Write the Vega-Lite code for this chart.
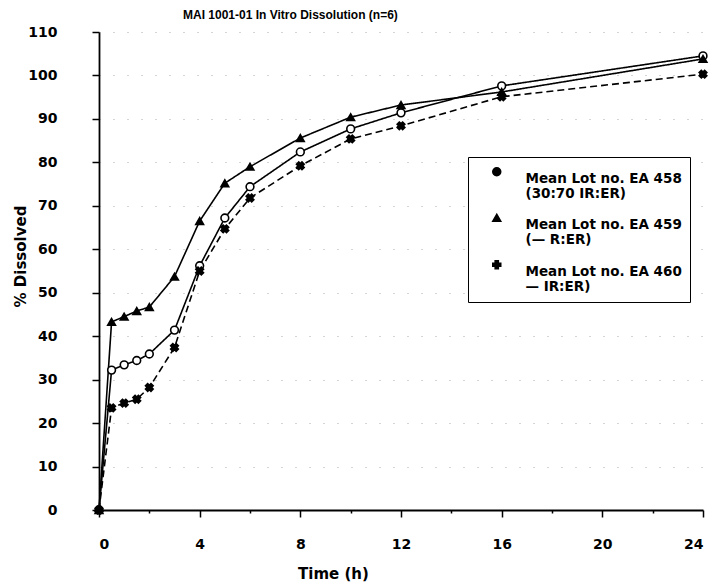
{
  "$schema": "https://vega.github.io/schema/vega-lite/v6.json",
  "width": 604,
  "height": 478,
  "autosize": {"type": "none"},
  "padding": {"left": 99, "top": 32, "right": 12, "bottom": 77},
  "background": "white",
  "title": {"text": "MAI 1001-01 In Vitro Dissolution (n=6)", "anchor": "start", "frame": "group", "dx": 84, "offset": 3, "font": "Liberation Sans", "fontSize": 12, "fontWeight": "bold", "color": "black"},
  "config": {"view": {"stroke": null}, "font": "DejaVu Sans"},
  "data": {"values": [
    {"t": 0, "lot": "EA 458", "p": 0}, {"t": 0.5, "lot": "EA 458", "p": 32.2}, {"t": 1, "lot": "EA 458", "p": 33.4}, {"t": 1.5, "lot": "EA 458", "p": 34.4}, {"t": 2, "lot": "EA 458", "p": 35.9}, {"t": 3, "lot": "EA 458", "p": 41.4}, {"t": 4, "lot": "EA 458", "p": 56.2}, {"t": 5, "lot": "EA 458", "p": 67.2}, {"t": 6, "lot": "EA 458", "p": 74.4}, {"t": 8, "lot": "EA 458", "p": 82.4}, {"t": 10, "lot": "EA 458", "p": 87.7}, {"t": 12, "lot": "EA 458", "p": 91.4}, {"t": 16, "lot": "EA 458", "p": 97.6}, {"t": 24, "lot": "EA 458", "p": 104.5},
    {"t": 0, "lot": "EA 459", "p": 0}, {"t": 0.5, "lot": "EA 459", "p": 43.3}, {"t": 1, "lot": "EA 459", "p": 44.5}, {"t": 1.5, "lot": "EA 459", "p": 45.8}, {"t": 2, "lot": "EA 459", "p": 46.7}, {"t": 3, "lot": "EA 459", "p": 53.7}, {"t": 4, "lot": "EA 459", "p": 66.5}, {"t": 5, "lot": "EA 459", "p": 75.2}, {"t": 6, "lot": "EA 459", "p": 79}, {"t": 8, "lot": "EA 459", "p": 85.6}, {"t": 10, "lot": "EA 459", "p": 90.4}, {"t": 12, "lot": "EA 459", "p": 93.2}, {"t": 16, "lot": "EA 459", "p": 96.2}, {"t": 24, "lot": "EA 459", "p": 103.8},
    {"t": 0, "lot": "EA 460", "p": 0}, {"t": 0.5, "lot": "EA 460", "p": 23.5}, {"t": 1, "lot": "EA 460", "p": 24.6}, {"t": 1.5, "lot": "EA 460", "p": 25.5}, {"t": 2, "lot": "EA 460", "p": 28.2}, {"t": 3, "lot": "EA 460", "p": 37.4}, {"t": 4, "lot": "EA 460", "p": 55}, {"t": 5, "lot": "EA 460", "p": 64.7}, {"t": 6, "lot": "EA 460", "p": 71.8}, {"t": 8, "lot": "EA 460", "p": 79.2}, {"t": 10, "lot": "EA 460", "p": 85.4}, {"t": 12, "lot": "EA 460", "p": 88.4}, {"t": 16, "lot": "EA 460", "p": 95.1}, {"t": 24, "lot": "EA 460", "p": 100.3}
  ]},
  "layer": [
    {
      "mark": {"type": "line", "stroke": "black", "strokeWidth": 1.6},
      "encoding": {
        "x": {"field": "t", "type": "quantitative", "scale": {"domain": [0, 24], "nice": false, "zero": false},
          "axis": {"orient": "bottom", "title": "Time (h)", "values": [0,1,2,3,4,5,6,7,8,9,10,11,12,13,14,15,16,17,18,19,20,21,22,23,24],
            "labelExpr": "datum.value % 4 == 0 ? datum.label : ''",
            "tickSize": {"condition": {"test": "datum.value % 4 == 0", "value": 7}, "value": 3},
            "tickColor": "black", "tickWidth": 1.5, "domainColor": "black", "domainWidth": 1.8, "grid": false,
            "labelFont": "DejaVu Sans", "labelFontSize": 14, "labelFontWeight": "bold", "labelColor": "black", "labelPadding": 20,
            "titleFont": "DejaVu Sans", "titleFontSize": 15, "titleFontWeight": "bold", "titleColor": "black", "titlePadding": 15, "titleX": 234}},
        "y": {"field": "p", "type": "quantitative", "scale": {"domain": [0, 110], "nice": false},
          "axis": {"orient": "left", "title": "% Dissolved", "values": [0,5,10,15,20,25,30,35,40,45,50,55,60,65,70,75,80,85,90,95,100,105,110],
            "labelExpr": "datum.value % 10 == 0 ? datum.label : ''",
            "tickSize": {"condition": {"test": "datum.value % 10 == 0", "value": 7}, "value": 3},
            "tickColor": "black", "tickWidth": 1.5, "domainColor": "black", "domainWidth": 1.8,
            "grid": true, "gridColor": {"condition": {"test": "datum.value % 10 == 0", "value": "#aaa"}, "value": "transparent"}, "gridDash": [1, 13], "gridWidth": 1,
            "labelFont": "DejaVu Sans", "labelFontSize": 14, "labelFontWeight": "bold", "labelColor": "black", "labelPadding": 35,
            "titleFont": "DejaVu Sans", "titleFontSize": 15, "titleFontWeight": "bold", "titleColor": "black", "titleX": -71, "titleY": 224}},
        "strokeDash": {"field": "lot", "type": "nominal", "scale": {"range": [[1, 0], [1, 0], [7, 4]]}, "legend": null}
      }
    },
    {
      "mark": {"type": "point", "filled": true, "stroke": "black", "strokeWidth": 1.6, "size": 60, "opacity": 1},
      "encoding": {
        "x": {"field": "t", "type": "quantitative"},
        "y": {"field": "p", "type": "quantitative"},
        "shape": {"field": "lot", "type": "nominal",
          "scale": {"range": ["circle", "triangle-up", "cross"]},
          "legend": {"orient": "none", "legendX": 369, "legendY": 125, "title": "", "strokeColor": "black", "padding": 8, "fillColor": "white",
            "labelExpr": "datum.value == 'EA 458' ? ['Mean Lot no. EA 458', '(30:70 IR:ER)'] : datum.value == 'EA 459' ? ['Mean Lot no. EA 459', '(\u2014      R:ER)'] : ['Mean Lot no. EA 460', '\u2014      IR:ER)']",
            "labelFont": "DejaVu Sans", "labelFontSize": 13.5, "labelFontWeight": "bold", "labelColor": "black", "labelLimit": 300,
            "labelBaseline": "top", "symbolSize": 64, "symbolOffset": 14, "labelOffset": 22, "rowPadding": 10,
            "encode": {"symbols": {"update": {
              "fill": {"signal": "datum.value == 'EA 458' ? 'white' : 'black'"},
              "stroke": {"value": "black"}, "strokeWidth": {"value": 1.6}, "opacity": {"value": 1}
            }}, "labels": {"update": {"dy": {"value": -8}}}}
          }},
        "angle": {"condition": {"test": "datum.lot == 'EA 460'", "value": 45}, "value": 0},
        "fill": {"condition": {"test": "datum.lot == 'EA 458'", "value": "white"}, "value": "black"}
      }
    }
  ]
}
